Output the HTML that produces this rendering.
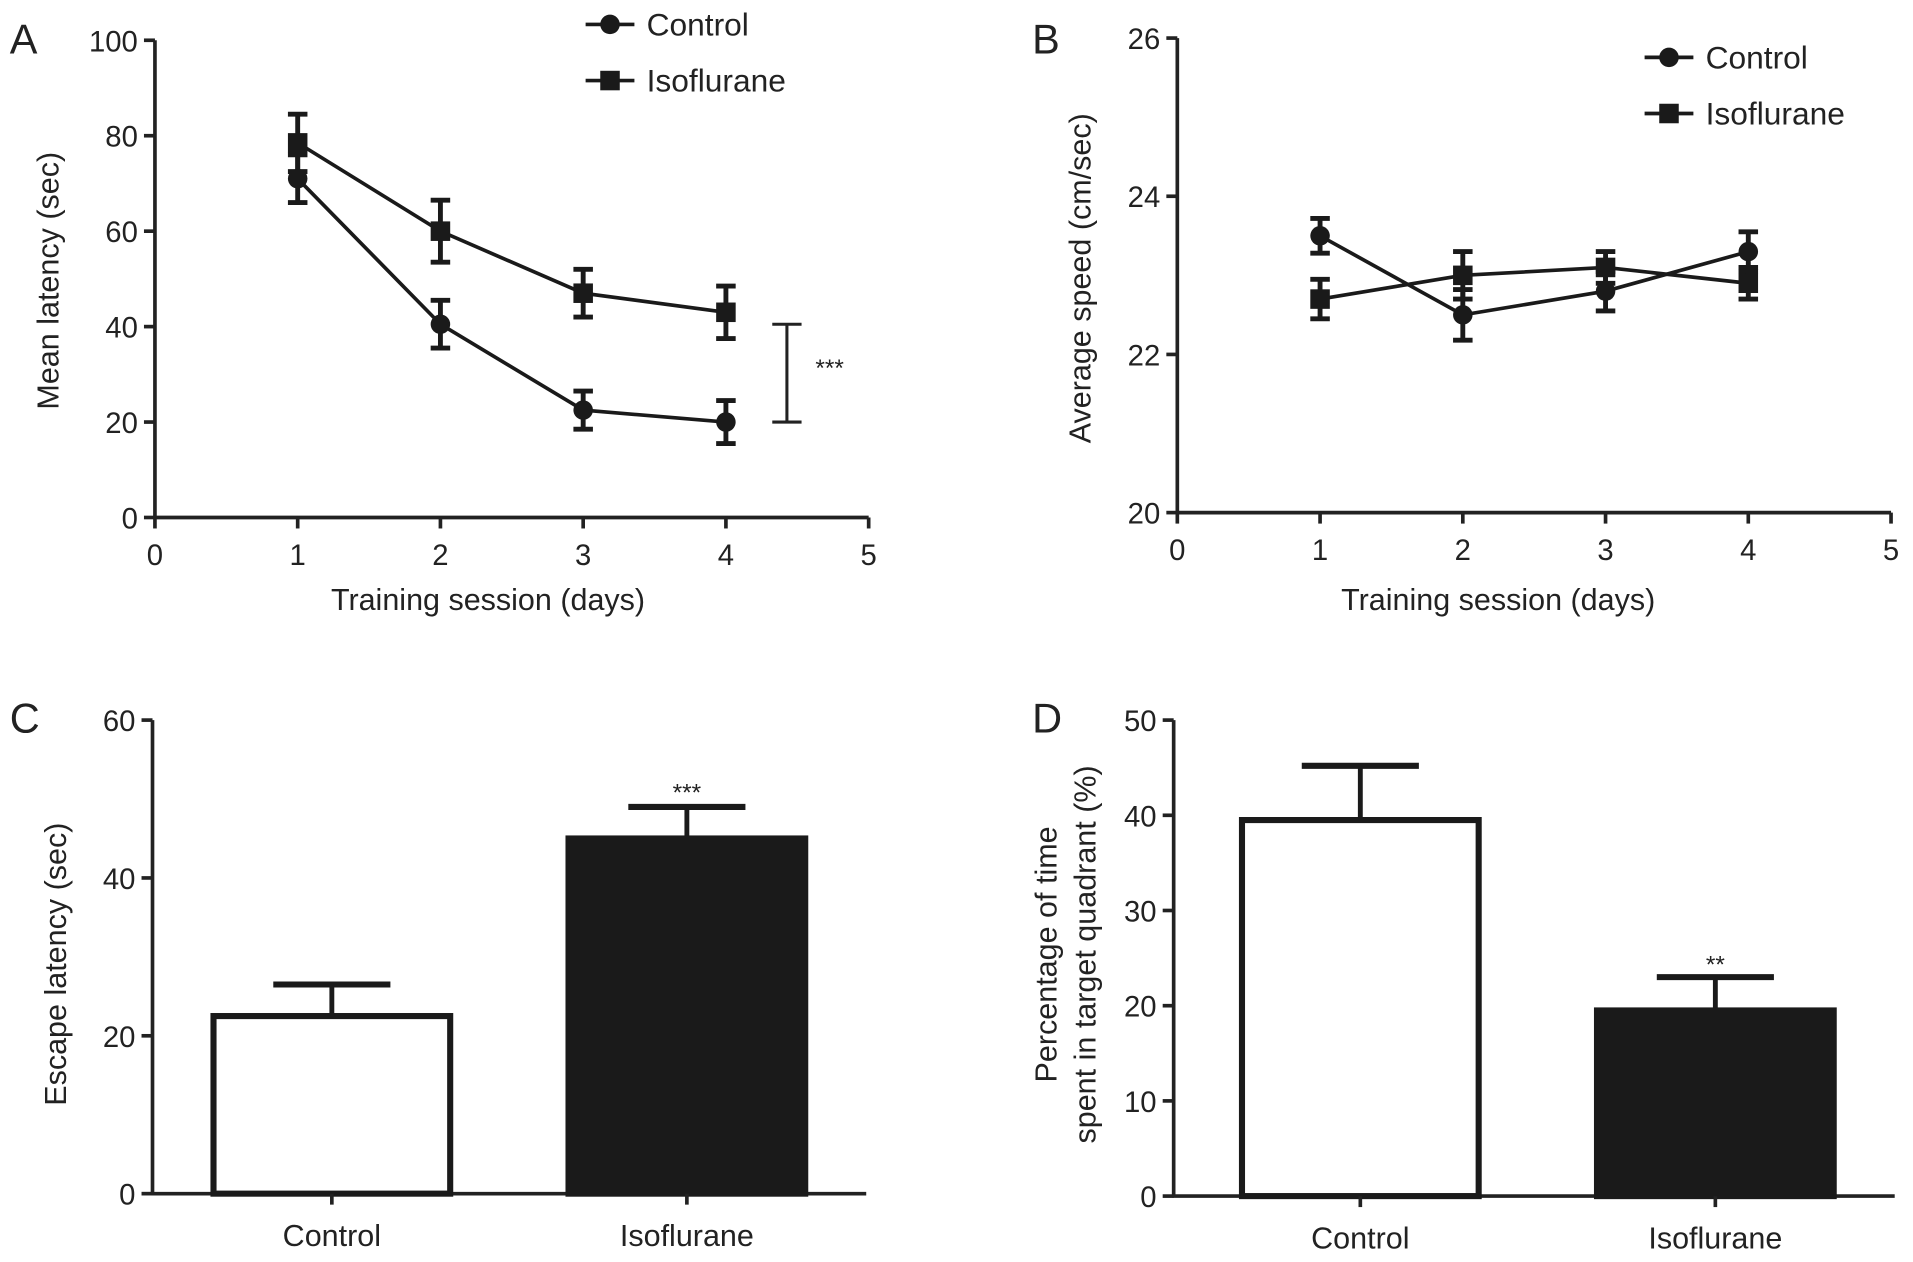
<!DOCTYPE html>
<html><head><meta charset="utf-8">
<style>
html,body{margin:0;padding:0;background:#fff;}
svg{display:block;font-family:"Liberation Sans",Arial,sans-serif;}
</style></head>
<body>
<svg id="fig" width="1913" height="1262" viewBox="0 0 1568 1034" preserveAspectRatio="none" xmlns="http://www.w3.org/2000/svg"></svg>
<script>
// Panel A data
const daysA = [1, 2, 3, 4];
const ctrlLatency = [71, 40.5, 22.5, 20];
const ctrlLatencyErr = [5, 5, 4, 4.5];
const isoLatency = [78.5, 60, 47, 43];
const isoLatencyErr = [6, 6.5, 5, 5.5];
const xTicksA = [0, 1, 2, 3, 4, 5];
const yTicksA = [0, 20, 40, 60, 80, 100];
// Panel B data
const ctrlSpeed = [23.5, 22.5, 22.8, 23.3];
const ctrlSpeedErr = [0.22, 0.32, 0.25, 0.25];
const isoSpeed = [22.7, 23.0, 23.1, 22.9];
const isoSpeedErr = [0.25, 0.3, 0.2, 0.2];
const yTicksB = [20, 22, 24, 26];
// Panel C data
const groups = ["Control", "Isoflurane"];
const escapeLatency = [22.5, 45];
const escapeLatencyErr = [4, 4];
const yTicksC = [0, 20, 40, 60];
// Panel D data
const quadrantPct = [39.5, 19.5];
const quadrantPctErr = [5.7, 3.5];
const yTicksD = [0, 10, 20, 30, 40, 50];

const NS = "http://www.w3.org/2000/svg";
const svg = document.getElementById("fig");
function el(tag, attrs, parent, text) {
  const e = document.createElementNS(NS, tag);
  for (const k in attrs) e.setAttribute(k, attrs[k]);
  if (text !== undefined) e.textContent = text;
  (parent || svg).appendChild(e);
  return e;
}
function group(name) {
  const g = el("g", {});
  
  
  return g;
}
const LW = 3;

function axes(g, x0, x1, yTop, yBot, ys, yTicks, xs, xTicks, fontSize) {
  const ya = el("line", {x1: x0, y1: yTop, x2: x0, y2: yBot + 1, stroke: "#222", "stroke-width": LW}, g);
  
  
  const xa = el("line", {x1: x0 - 1, y1: yBot, x2: x1, y2: yBot, stroke: "#222", "stroke-width": LW}, g);
  
  
  yTicks.forEach(v => {
    const y = ys(v);
    el("line", {x1: x0 - 9, y1: y, x2: x0, y2: y, stroke: "#222", "stroke-width": LW}, g);
    const t = el("text", {x: x0 - 14, y: y + 9, "text-anchor": "end", "font-size": fontSize, fill: "#222"}, g, v);
    
    
  });
  if (xTicks) xTicks.forEach(v => {
    const x = xs(v);
    el("line", {x1: x, y1: yBot, x2: x, y2: yBot + 9, stroke: "#222", "stroke-width": LW}, g);
    const t = el("text", {x: x, y: yBot + 39, "text-anchor": "middle", "font-size": fontSize, fill: "#222"}, g, v);
    
    
  });
}
function errBar(g, x, y1, y2, capW) {
  el("line", {x1: x, y1: y1, x2: x, y2: y2, stroke: "#1a1a1a", "stroke-width": LW + 1}, g);
  el("line", {x1: x - capW, y1: y1, x2: x + capW, y2: y1, stroke: "#1a1a1a", "stroke-width": LW + 1}, g);
  el("line", {x1: x - capW, y1: y2, x2: x + capW, y2: y2, stroke: "#1a1a1a", "stroke-width": LW + 1}, g);
}
function series(g, name, xsArr, vals, errs, xs, ys, shape) {
  const sg = el("g", {}, g);
  
  
  const pts = xsArr.map((d, i) => xs(d) + "," + ys(vals[i])).join(" ");
  el("polyline", {points: pts, fill: "none", stroke: "#1a1a1a", "stroke-width": LW}, sg);
  xsArr.forEach((d, i) => {
    const x = xs(d), y = ys(vals[i]);
    errBar(sg, x, ys(vals[i] + errs[i]), ys(vals[i] - errs[i]), 8);
    let m;
    if (shape === "circle") m = el("circle", {cx: x, cy: y, r: 8, fill: "#1a1a1a"}, sg);
    else m = el("rect", {x: x - 8, y: y - 8, width: 16, height: 16, fill: "#1a1a1a"}, sg);
    
    
  });
}
function legend(g, x, y, label, shape) {
  const lg = el("g", {}, g);
  
  
  el("line", {x1: x - 20, y1: y, x2: x + 20, y2: y, stroke: "#1a1a1a", "stroke-width": LW}, lg);
  if (shape === "circle") el("circle", {cx: x, cy: y, r: 8, fill: "#1a1a1a"}, lg);
  else el("rect", {x: x - 8, y: y - 8, width: 16, height: 16, fill: "#1a1a1a"}, lg);
  el("text", {x: x + 30, y: y + 9, "font-size": 26, fill: "#222"}, lg, label);
}
function yTitle(g, x, y, lines) {
  const t = el("text", {transform: `translate(${x},${y}) rotate(-90)`, "text-anchor": "middle", "font-size": 25, fill: "#222"}, g);
  
  
  lines.forEach((l, i) => el("tspan", {x: 0, dy: i === 0 ? 0 : 32}, t, l));
}
function xTitle(g, x, y, s) {
  const t = el("text", {x: x, y: y, "text-anchor": "middle", "font-size": 25, fill: "#222"}, g, s);
  
  
}
function letter(g, x, y, s) {
  const t = el("text", {x: x, y: y, "font-size": 34, fill: "#222"}, g, s);
  
  
}

// Panel A
(function () {
  const g = group("panel-a-latency-chart");
  const x0 = 127, xUnit = 117, yBot = 424, yUnit = 3.91;
  const xs = d => x0 + d * xUnit, ys = v => yBot - v * yUnit;
  axes(g, x0, xs(5), ys(100), yBot, ys, yTicksA, xs, xTicksA, 24);
  series(g, "control-series", daysA, ctrlLatency, ctrlLatencyErr, xs, ys, "circle");
  series(g, "isoflurane-series", daysA, isoLatency, isoLatencyErr, xs, ys, "square");
  const br = el("g", {}, g);
  
  
  el("line", {x1: 645, y1: ys(40.5), x2: 645, y2: ys(20), stroke: "#222", "stroke-width": 2.5}, br);
  el("line", {x1: 633, y1: ys(40.5), x2: 657, y2: ys(40.5), stroke: "#222", "stroke-width": 2.5}, br);
  el("line", {x1: 633, y1: ys(20), x2: 657, y2: ys(20), stroke: "#222", "stroke-width": 2.5}, br);
  el("text", {x: 680, y: 308, "text-anchor": "middle", "font-size": 20, fill: "#222"}, br, "***");
  legend(g, 500, 20, "Control", "circle");
  legend(g, 500, 66, "Isoflurane", "square");
  yTitle(g, 48, 230, ["Mean latency (sec)"]);
  xTitle(g, 400, 500, "Training session (days)");
  letter(g, 8, 44, "A");
})();

// Panel B
(function () {
  const g = group("panel-b-speed-chart");
  const x0 = 965, xUnit = 117, yBot = 420, yUnit = 64.8;
  const xs = d => x0 + d * xUnit, ys = v => yBot - (v - 20) * yUnit;
  axes(g, x0, xs(5), ys(26), yBot, ys, yTicksB, xs, xTicksA, 24);
  series(g, "control-series", daysA, ctrlSpeed, ctrlSpeedErr, xs, ys, "circle");
  series(g, "isoflurane-series", daysA, isoSpeed, isoSpeedErr, xs, ys, "square");
  legend(g, 1368, 47, "Control", "circle");
  legend(g, 1368, 93, "Isoflurane", "square");
  yTitle(g, 894, 228, ["Average speed (cm/sec)"]);
  xTitle(g, 1228, 500, "Training session (days)");
  letter(g, 846, 44, "B");
})();

function barPanel(name, x0, x1, yBot, yTop, vMax, ticks, vals, errs, centers, stars, starsY, lab, tx, tty, lx, ly) {
  const g = group(name);
  const yUnit = (yBot - yTop) / vMax;
  const ys = v => yBot - v * yUnit;
  axes(g, x0, x1, yTop, yBot, ys, ticks, null, null, 24);
  groups.forEach((gname, i) => {
    const cx = centers[i];
    errBar(g, cx, ys(vals[i] + errs[i]), ys(vals[i]), 0);
    el("line", {x1: cx - 48, y1: ys(vals[i] + errs[i]), x2: cx + 48, y2: ys(vals[i] + errs[i]), stroke: "#1a1a1a", "stroke-width": 5}, g);
    const b = el("rect", {x: cx - 97, y: ys(vals[i]), width: 194, height: yBot - ys(vals[i]), fill: i === 0 ? "#fff" : "#1a1a1a", stroke: "#1a1a1a", "stroke-width": 5}, g);
    
    
    el("line", {x1: cx, y1: yBot, x2: cx, y2: yBot + 9, stroke: "#222", "stroke-width": LW}, g);
    const t = el("text", {x: cx, y: yBot + 43, "text-anchor": "middle", "font-size": 25, fill: "#222"}, g, gname);
    
    
  });
  const s = el("text", {x: centers[1], y: starsY, "text-anchor": "middle", "font-size": 20, fill: "#222"}, g, stars);
  
  
  yTitle(g, tx, tty, lab);
  letter(g, lx, ly, lx < 400 ? "C" : "D");
}
barPanel("panel-c-escape-latency-chart", 125, 710, 978, 590, 60, yTicksC, escapeLatency, escapeLatencyErr, [272, 563], "***", 656, ["Escape latency (sec)"], 54, 790, 8, 600);
barPanel("panel-d-target-quadrant-chart", 962, 1553, 980, 590, 50, yTicksD, quadrantPct, quadrantPctErr, [1115, 1406], "**", 797, ["Percentage of time", "spent in target quadrant (%)"], 866, 782, 846, 600);
</script>
</body></html>
